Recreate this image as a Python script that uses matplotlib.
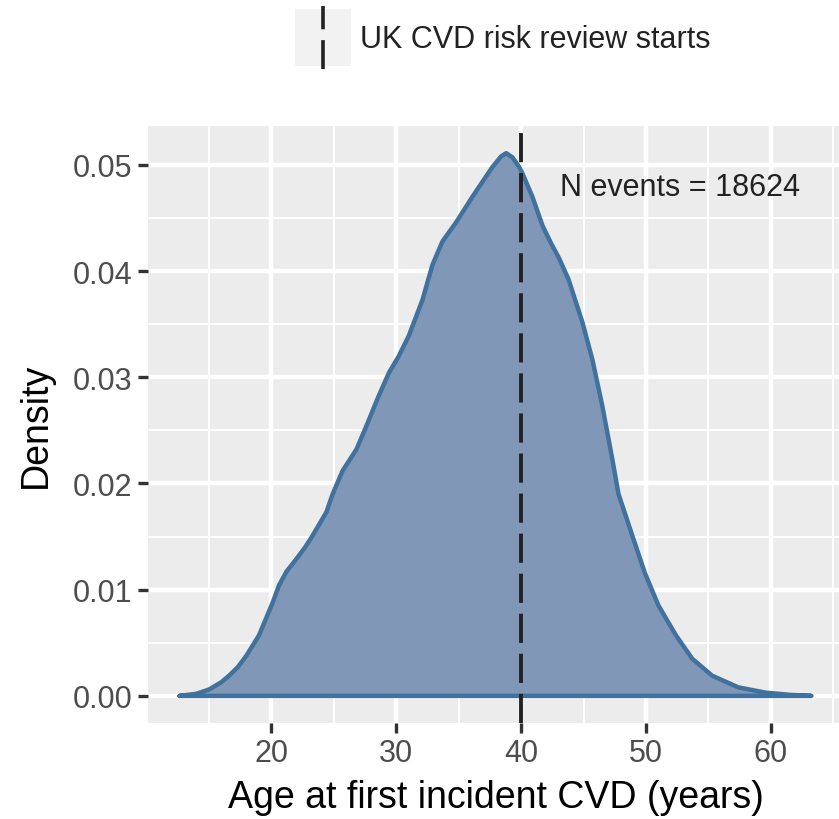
import numpy as np
import matplotlib.pyplot as plt

plt.rcParams["font.family"] = ["Liberation Sans", "DejaVu Sans"]

# density estimate
age = [12.64, 14.0, 15.0, 16.0, 16.6, 17.3, 18.0, 19.0, 20.1, 20.6, 21.2, 22.0,
       22.7, 23.3, 24.4, 24.9, 25.7, 26.8, 27.6, 28.5, 29.4, 30.2, 31.0, 32.1,
       32.9, 33.7, 34.8, 36.1, 37.7, 38.4, 38.8, 39.3, 39.84, 40.1, 40.9, 41.7,
       42.4, 43.04, 43.8, 44.9, 45.7, 46.5, 47.3, 47.8, 48.9, 49.9, 51.0, 52.4,
       53.7, 55.3, 57.4, 59.6, 61.5, 63.25]
density = [0.0, 0.0002, 0.0006, 0.0013, 0.0019, 0.0027, 0.0038, 0.0057, 0.0088,
           0.0104, 0.0117, 0.0129, 0.0140, 0.0151, 0.0173, 0.0190, 0.0212, 0.0232,
           0.0254, 0.0280, 0.0304, 0.0320, 0.0339, 0.0373, 0.0406, 0.0428, 0.0446,
           0.0470, 0.0498, 0.0508, 0.0511, 0.0507, 0.0498, 0.0492, 0.0470, 0.0443,
           0.0426, 0.0412, 0.0392, 0.0352, 0.0317, 0.0273, 0.0223, 0.0190, 0.0151,
           0.0116, 0.0085, 0.0057, 0.0035, 0.0019, 0.0008, 0.0003, 0.0001, 0.0]
review_age = 40
n_events = 18624
x_ticks = [20, 30, 40, 50, 60]
y_ticks = [0.00, 0.01, 0.02, 0.03, 0.04, 0.05]

fig = plt.figure(figsize=(8.39, 8.2), dpi=100)
ax = fig.add_axes([148 / 839, 1 - 724 / 820, 695 / 839, 597 / 820])
ax.set_facecolor("#EBECEB")

ax.fill_between(age, density, 0, color="#8197B7", linewidth=0, zorder=2)
xs = np.array(age)
ys = np.array(density)
ax.plot(np.r_[xs, xs[::-1][:1], xs[0]], np.r_[ys, 0, 0], color="#41719D",
        linewidth=3.2, solid_capstyle="round", solid_joinstyle="round", zorder=3)
ax.axvline(review_age, color="#222222", linewidth=2.8, dashes=(7.5, 2.8), zorder=4)
ax.text(43.1, 0.0479, f"N events = {n_events}", fontsize=22, color="#222222",
        va="center", ha="left", zorder=5)

span = max(age) - min(age)
ax.set_xlim(min(age) - 0.05 * span, max(age) + 0.05 * span)
ax.set_ylim(-0.05 * max(density), 1.05 * max(density))
ax.set_xticks(x_ticks)
ax.set_yticks(y_ticks)
ax.set_xticklabels([str(t) for t in x_ticks])
ax.set_yticklabels([f"{t:.2f}" for t in y_ticks])
ax.set_xticks([15, 25, 35, 45, 55, 65], minor=True)
ax.set_yticks([0.005, 0.015, 0.025, 0.035, 0.045], minor=True)
ax.grid(which="major", color="white", linewidth=3.2, zorder=0)
ax.grid(which="minor", color="white", linewidth=1.5, zorder=0)
ax.set_axisbelow(True)
ax.tick_params(which="major", length=7, width=2.4, color="#333333",
               labelsize=22, labelcolor="#4D4D4D", pad=4)
ax.tick_params(which="minor", length=0)
for s in ax.spines.values():
    s.set_visible(False)

ax.set_xlabel("Age at first incident CVD (years)", fontsize=27, labelpad=8)
ax.set_ylabel("Density", fontsize=27, labelpad=14)

# legend key
key = fig.add_axes([295 / 839, 1 - 67 / 820, 56 / 839, 57 / 820])
key.set_facecolor("#F2F2F2")
key.set_xlim(0, 1)
key.set_ylim(0, 1)
key.plot([0.5, 0.5], [-0.05, 1.05], color="#222222", linewidth=2.6,
         dashes=(8, 3), clip_on=False)
key.set_xticks([])
key.set_yticks([])
for s in key.spines.values():
    s.set_visible(False)
fig.text(360 / 839, 1 - 40 / 820, "UK CVD risk review starts", fontsize=22,
         color="#222222", va="center", ha="left")

plt.savefig("out.png", dpi=100)
